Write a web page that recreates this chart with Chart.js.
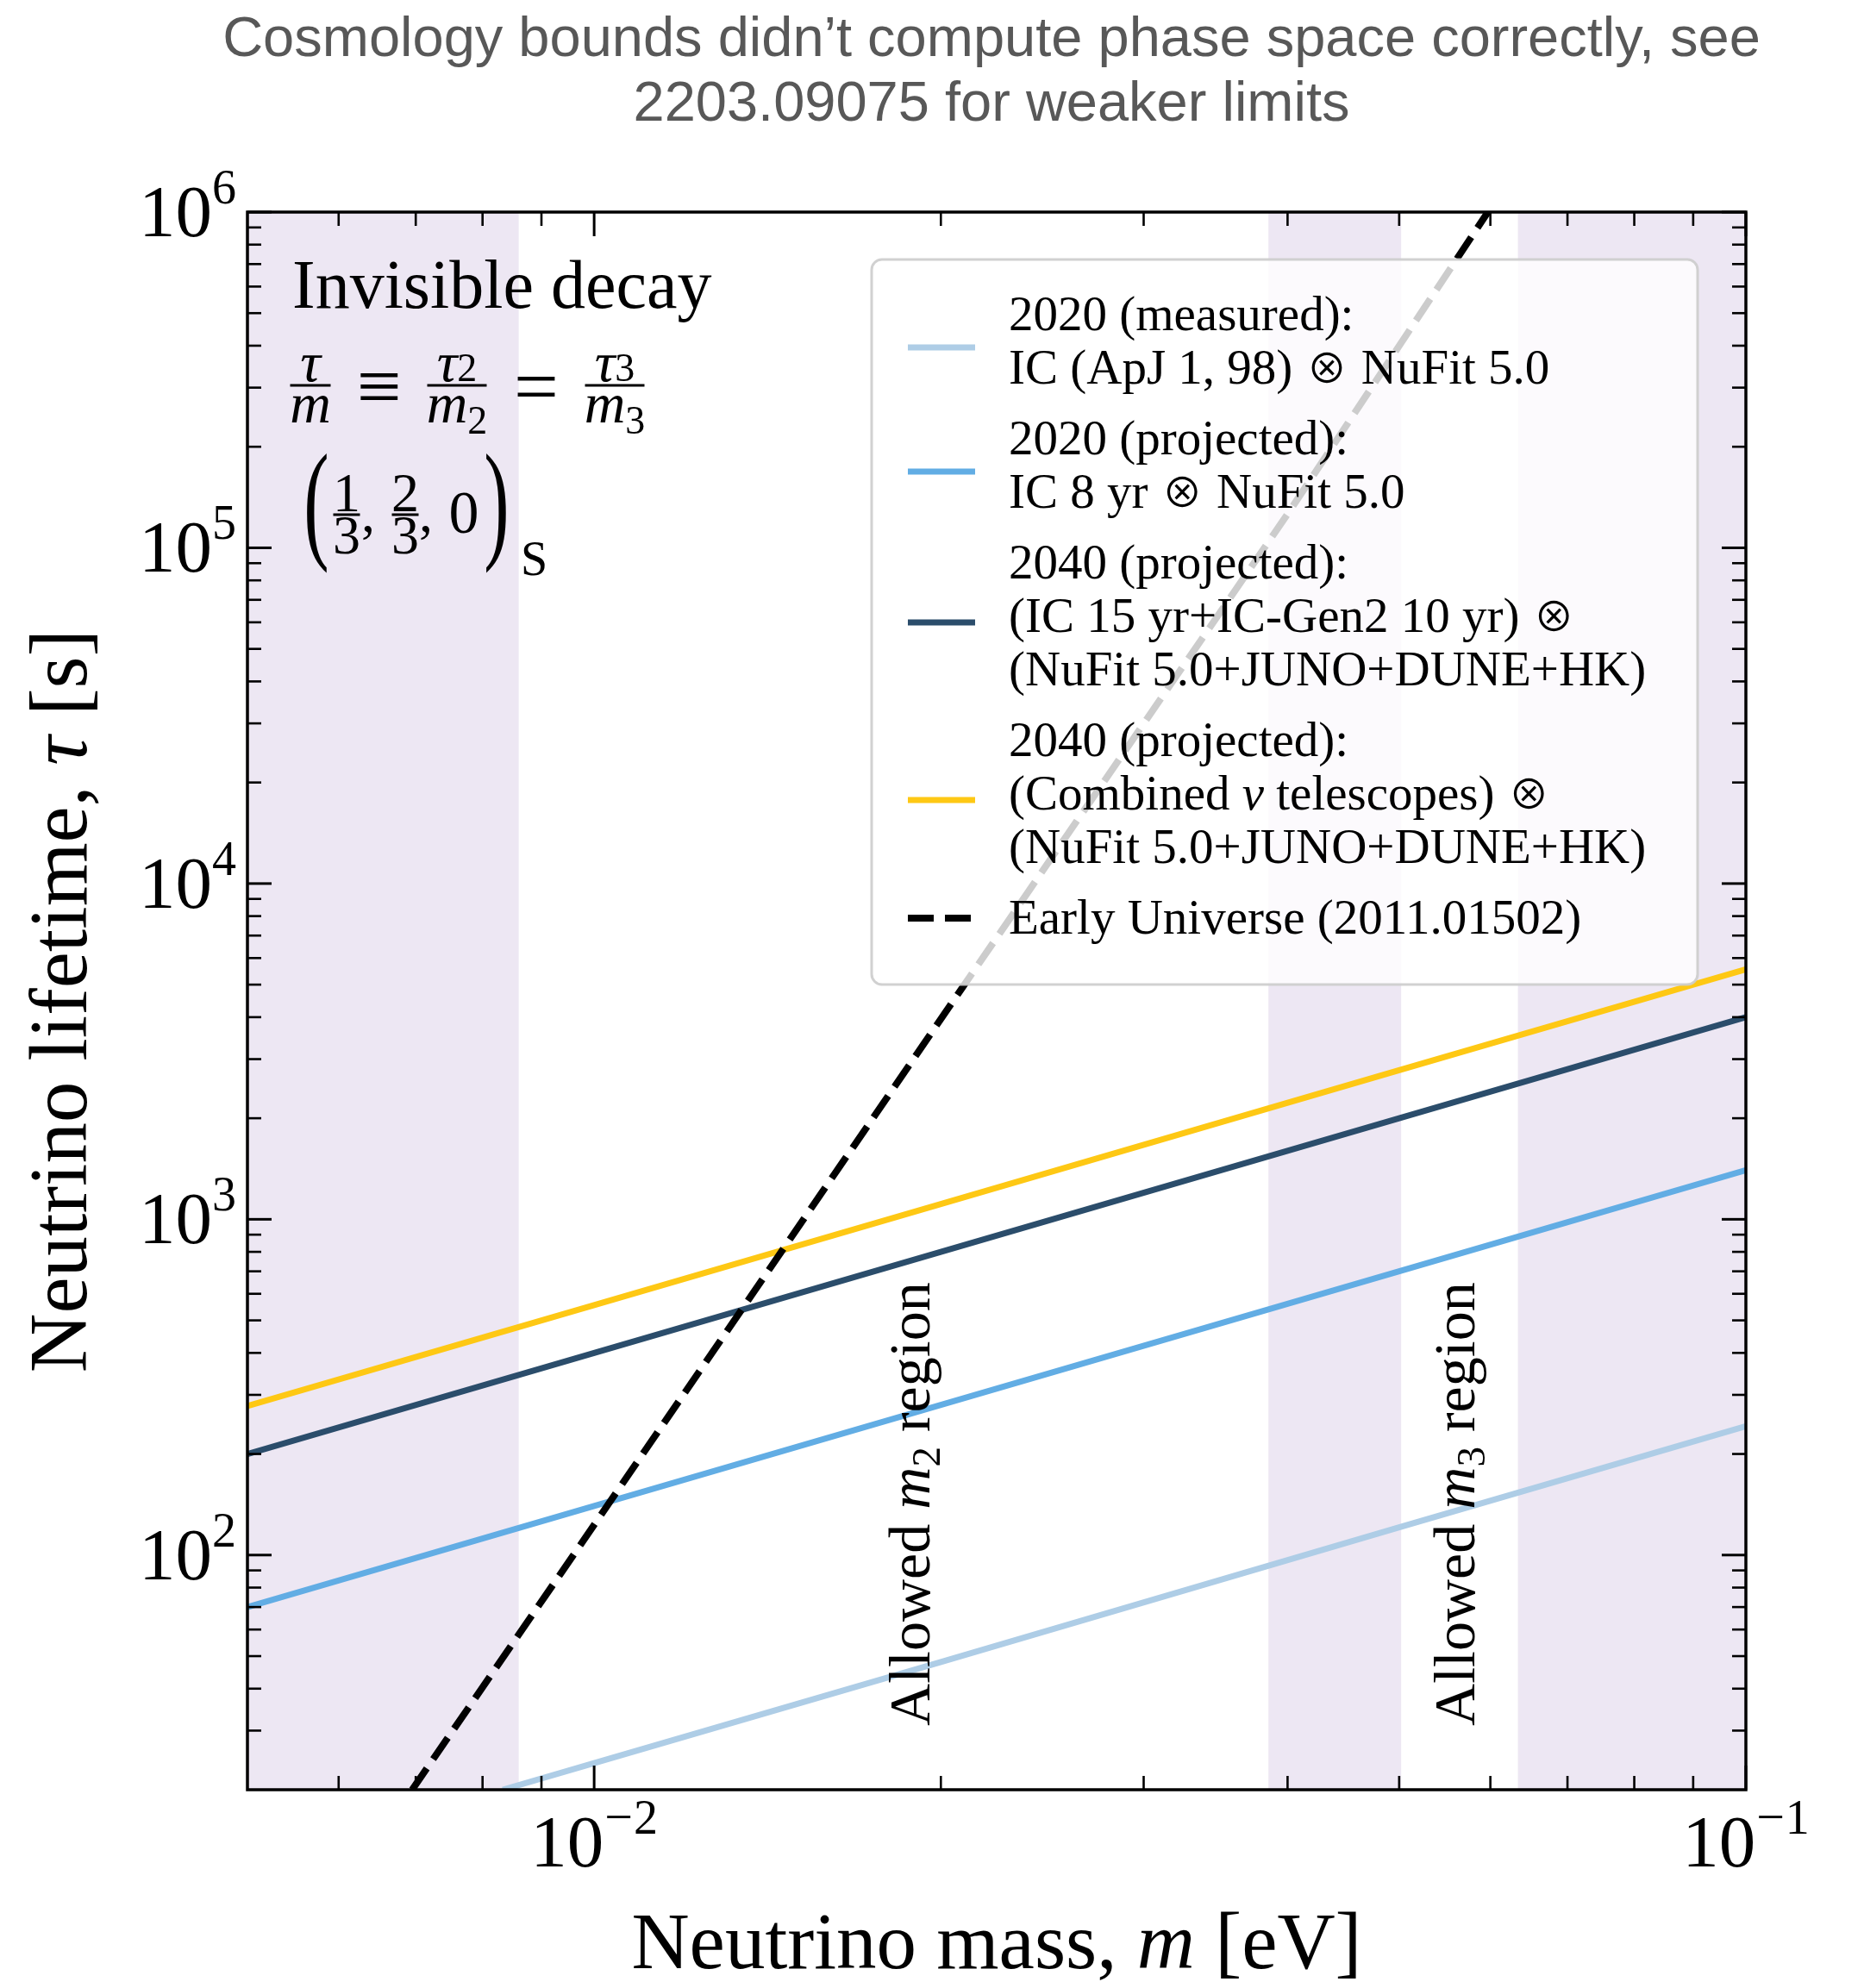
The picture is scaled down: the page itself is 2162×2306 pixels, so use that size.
<!DOCTYPE html>
<html>
<head>
<meta charset="utf-8">
<title>Invisible neutrino decay: lifetime bounds</title>
<script src="https://cdn.jsdelivr.net/npm/chart.js@4.4.1/dist/chart.umd.min.js"></script>
<style>
  html, body { margin: 0; padding: 0; background: #ffffff; }
  canvas { display: block; }
</style>
</head>
<body>
<canvas id="chart" width="2162" height="2306" style="width:2162px;height:2306px"></canvas>
<script>
// ---------------------------------------------------------------------------
// Data: neutrino mass m [eV] and lifetime lower bound tau [s]
// ---------------------------------------------------------------------------
const massGrid = [0.005, 0.01, 0.02, 0.05, 0.1];

// 2040 (projected): combined neutrino telescopes x (NuFit 5.0+JUNO+DUNE+HK)
const tauCombined2040 = [278, 555, 1110, 2780, 5550];
// 2040 (projected): (IC 15 yr + IC-Gen2 10 yr) x (NuFit 5.0+JUNO+DUNE+HK)
const tauGen2_2040 = [200, 400, 800, 2000, 4000];
// 2020 (projected): IC 8 yr x NuFit 5.0
const tauIc8yr2020 = [70, 140, 280, 700, 1400];
// 2020 (measured): IC (ApJ 1, 98) x NuFit 5.0
const massMeasured2020 = [0.00833, 0.01, 0.02, 0.05, 0.1];
const tauMeasured2020 = [20, 24, 48, 121, 242];
// Early Universe bound (2011.01502)
const massEarlyUniverse = [0.00695, 0.01, 0.02, 0.04, 0.0597];
const tauEarlyUniverse = [20, 123, 3950, 126000, 1000000];

// Mass ranges outside the allowed m2 / m3 regions (shaded)
const excludedMassBands = [[0.005, 0.0086], [0.0385, 0.0502], [0.0634, 0.1]];

// Axis ranges and tick values
const massRange = [0.005, 0.1];
const tauRange = [20, 1e6];
const xMajorTicks = [0.01, 0.1];
const xMinorTicks = [0.006, 0.007, 0.008, 0.009, 0.02, 0.03, 0.04, 0.05, 0.06, 0.07, 0.08, 0.09];
const yMajorTicks = [1e2, 1e3, 1e4, 1e5, 1e6];
const yMinorMultipliers = [2, 3, 4, 5, 6, 7, 8, 9];
const yMinorDecades = [10, 100, 1000, 10000, 100000];

// Text
const titleLines = [
  'Cosmology bounds didn\u2019t compute phase space correctly, see',
  '2203.09075 for weaker limits'
];
const seriesLabels = [
  ['2020 (measured):', 'IC (ApJ 1, 98) \u2297 NuFit 5.0'],
  ['2020 (projected):', 'IC 8 yr \u2297 NuFit 5.0'],
  ['2040 (projected):', '(IC 15 yr+IC-Gen2 10 yr) \u2297', '(NuFit 5.0+JUNO+DUNE+HK)'],
  ['2040 (projected):', '(Combined \u03bd telescopes) \u2297', '(NuFit 5.0+JUNO+DUNE+HK)'],
  ['Early Universe (2011.01502)']
];
const seriesColors = ['#aecde6', '#62ade4', '#2b4d6b', '#fec814', '#000000'];

// ---------------------------------------------------------------------------
const SERIF = '"Liberation Serif", "Times New Roman", "DejaVu Serif", serif';
const SANS = '"Liberation Sans", Arial, "DejaVu Sans", sans-serif';
const SYMBOL = '"Noto Sans CJK JP", "DejaVu Sans", sans-serif';
const BAND_COLOR = '#ede7f3';

function points(xs, ys) {
  return xs.map((x, i) => ({ x: x, y: ys[i] }));
}

function lineSet(label, xs, ys, color, width, dash) {
  return {
    label: label,
    data: points(xs, ys),
    showLine: true,
    borderColor: color,
    backgroundColor: color,
    borderWidth: width,
    borderDash: dash || [],
    borderCapStyle: 'butt',
    pointRadius: 0,
    pointHoverRadius: 0,
    fill: false,
    tension: 0,
    clip: 0
  };
}

// Draw a sequence of text runs with individual fonts and vertical offsets.
function drawRuns(ctx, x, y, runs, align) {
  let total = 0;
  for (const r of runs) {
    ctx.font = r.font;
    r.w = ctx.measureText(r.t).width + (r.pad || 0);
    total += r.w;
  }
  let cx = align === 'center' ? x - total / 2 : (align === 'right' ? x - total : x);
  ctx.textAlign = 'left';
  for (const r of runs) {
    ctx.font = r.font;
    ctx.fillText(r.t, cx + (r.pad || 0) / 2, y + (r.dy || 0));
    cx += r.w;
  }
  return total;
}

// Split a label into upright text, italic Greek letters and operator symbols.
function labelRuns(text, size) {
  const runs = [];
  let buf = '';
  const flush = () => { if (buf) { runs.push({ t: buf, font: `${size}px ${SERIF}` }); buf = ''; } };
  for (const ch of text) {
    if (/[\u03b1-\u03c9]/.test(ch)) {
      flush();
      runs.push({ t: ch, font: `italic ${size}px ${SERIF}` });
    } else if (ch === '\u2297') {
      flush();
      runs.push({ t: ch, font: `${Math.round(size * 0.82)}px ${SYMBOL}`, dy: -1, pad: 4 });
    } else {
      buf += ch;
    }
  }
  flush();
  return runs;
}

function fraction(ctx, cx, barY, barW, num, den, numGap, denGap) {
  ctx.fillRect(cx - barW / 2, barY - 1.5, barW, 3);
  drawRuns(ctx, cx, barY - (numGap || 5), num, 'center');
  drawRuns(ctx, cx, barY + (denGap || 44), den, 'center');
}

const decor = {
  id: 'decor',
  beforeDatasetsDraw(chart) {
    const { ctx, chartArea: a, scales: { x } } = chart;
    ctx.save();
    ctx.fillStyle = BAND_COLOR;
    for (const [m0, m1] of excludedMassBands) {
      const x0 = x.getPixelForValue(m0);
      const x1 = x.getPixelForValue(m1);
      ctx.fillRect(x0, a.top, x1 - x0, a.bottom - a.top);
    }
    ctx.restore();
  },
  afterDatasetsDraw(chart) {
    const { ctx, chartArea: a, scales: { x, y } } = chart;
    ctx.save();
    ctx.fillStyle = '#000';
    ctx.textBaseline = 'alphabetic';

    // Decay scenario annotation
    const it = s => `italic ${s}px ${SERIF}`;
    const rm = s => `${s}px ${SERIF}`;
    drawRuns(ctx, 339, 357, [{ t: 'Invisible decay', font: rm(80) }], 'left');
    fraction(ctx, 360, 447, 47, [{ t: '\u03c4', font: it(66) }], [{ t: 'm', font: it(66) }], 5, 43);
    ctx.textBaseline = 'middle';
    ctx.textAlign = 'center';
    ctx.font = rm(92);
    ctx.fillText('\u2261', 440, 455);
    ctx.fillText('=', 622, 455);
    ctx.textBaseline = 'alphabetic';
    fraction(ctx, 530, 447, 69,
      [{ t: '\u03c4', font: it(66) }, { t: '2', font: rm(46), dy: 0 }],
      [{ t: 'm', font: it(66) }, { t: '2', font: rm(46), dy: 13 }], 5, 43);
    fraction(ctx, 713, 447, 69,
      [{ t: '\u03c4', font: it(66) }, { t: '3', font: rm(46), dy: 0 }],
      [{ t: 'm', font: it(66) }, { t: '3', font: rm(46), dy: 13 }], 5, 43);

    // Flavor composition at the source
    const paren = (ch, cx) => {
      ctx.save();
      ctx.translate(cx, 632);
      ctx.scale(0.58, 1);
      ctx.font = rm(152);
      ctx.textAlign = 'center';
      ctx.fillText(ch, 0, 0);
      ctx.restore();
    };
    paren('(', 367);
    fraction(ctx, 402, 597, 31, [{ t: '1', font: rm(64) }], [{ t: '3', font: rm(64) }], 4, 45);
    drawRuns(ctx, 419, 617, [{ t: ',', font: rm(64) }], 'left');
    fraction(ctx, 470, 597, 31, [{ t: '2', font: rm(64) }], [{ t: '3', font: rm(64) }], 4, 45);
    drawRuns(ctx, 486, 617, [{ t: ',', font: rm(64) }], 'left');
    drawRuns(ctx, 538, 618, [{ t: '0', font: rm(70) }], 'center');
    paren(')', 576);
    drawRuns(ctx, 604, 667, [{ t: 'S', font: rm(56) }], 'left');

    // Allowed mass regions (vertical labels)
    const vlabel = (mass, tau, sub) => {
      ctx.save();
      ctx.translate(x.getPixelForValue(mass), y.getPixelForValue(tau));
      ctx.rotate(-Math.PI / 2);
      drawRuns(ctx, 0, 0, [
        { t: 'Allowed ', font: rm(68) },
        { t: 'm', font: it(68) },
        { t: sub, font: rm(47), dy: 12 },
        { t: ' region', font: rm(68) }
      ], 'left');
      ctx.restore();
    };
    vlabel(0.01954, 31, '2');
    vlabel(0.05815, 31, '3');

    // Legend box
    const bx = 1011, by = 301, bw = 958, bh = 841;
    ctx.beginPath();
    ctx.roundRect(bx, by, bw, bh, 12);
    ctx.fillStyle = 'rgba(255,255,255,0.8)';
    ctx.fill();
    ctx.lineWidth = 3;
    ctx.strokeStyle = 'rgba(204,204,204,0.9)';
    ctx.stroke();

    const ds = chart.data.datasets;
    const legendOrder = [4, 3, 2, 1, 0]; // dataset index for each legend entry
    let base = 383;
    ctx.fillStyle = '#000';
    seriesLabels.forEach((lines, i) => {
      const d = ds[legendOrder[i]];
      const first = base;
      lines.forEach((ln, k) => {
        drawRuns(ctx, 1170, base, labelRuns(ln, 57), 'left');
        if (k < lines.length - 1) base += 62;
      });
      const last = base;
      const hy = (first + last) / 2 - (lines.length > 1 ? 11 : 18);
      ctx.save();
      ctx.strokeStyle = d.borderColor;
      ctx.lineWidth = d.borderWidth;
      ctx.setLineDash(d.borderDash);
      ctx.lineCap = 'butt';
      ctx.beginPath();
      ctx.moveTo(1053, hy);
      ctx.lineTo(1131, hy);
      ctx.stroke();
      ctx.restore();
      base += 82;
    });
    ctx.restore();
  },
  afterDraw(chart) {
    const { ctx, chartArea: a, scales: { x, y } } = chart;
    ctx.save();
    ctx.fillStyle = '#000';
    ctx.strokeStyle = '#000';

    // Inward ticks on all four sides
    const tick = (px, py, dx, dy, w) => {
      ctx.lineWidth = w;
      ctx.beginPath();
      ctx.moveTo(px, py);
      ctx.lineTo(px + dx, py + dy);
      ctx.stroke();
    };
    const MAJ = 28, MIN = 16;
    for (const v of xMajorTicks) {
      const px = x.getPixelForValue(v);
      tick(px, a.bottom, 0, -MAJ, 3); tick(px, a.top, 0, MAJ, 3);
    }
    for (const v of xMinorTicks) {
      const px = x.getPixelForValue(v);
      tick(px, a.bottom, 0, -MIN, 2.6); tick(px, a.top, 0, MIN, 2.6);
    }
    for (const v of yMajorTicks) {
      const py = y.getPixelForValue(v);
      tick(a.left, py, MAJ, 0, 3); tick(a.right, py, -MAJ, 0, 3);
    }
    for (const dec of yMinorDecades) {
      for (const k of yMinorMultipliers) {
        const v = dec * k;
        if (v <= tauRange[0] || v >= tauRange[1]) continue;
        const py = y.getPixelForValue(v);
        tick(a.left, py, MIN, 0, 2.6); tick(a.right, py, -MIN, 0, 2.6);
      }
    }

    // Frame
    ctx.lineWidth = 3.5;
    ctx.strokeRect(a.left, a.top, a.right - a.left, a.bottom - a.top);

    // Tick labels 10^n
    const rm = s => `${s}px ${SERIF}`;
    const expRuns = v => {
      const e = Math.round(Math.log10(v));
      const r = [];
      if (e < 0) r.push({ t: '\u2212', font: rm(58), dy: -38, pad: 2 });
      r.push({ t: String(Math.abs(e)), font: rm(56), dy: -38 });
      return r;
    };
    for (const v of yMajorTicks) {
      const py = y.getPixelForValue(v);
      drawRuns(ctx, 274, py + 28, [{ t: '10', font: rm(85) }].concat(expRuns(v)), 'right');
    }
    for (const v of xMajorTicks) {
      const px = x.getPixelForValue(v);
      drawRuns(ctx, px, 2165, [{ t: '10', font: rm(85) }].concat(expRuns(v)), 'center');
    }

    // Axis titles
    const it = s => `italic ${s}px ${SERIF}`;
    drawRuns(ctx, (a.left + a.right) / 2, 2283, [
      { t: 'Neutrino mass, ', font: rm(93) },
      { t: 'm', font: it(93) },
      { t: ' [eV]', font: rm(93) }
    ], 'center');
    ctx.save();
    ctx.translate(100, (a.top + a.bottom) / 2);
    ctx.rotate(-Math.PI / 2);
    drawRuns(ctx, 0, 0, [
      { t: 'Neutrino lifetime, ', font: rm(95) },
      { t: '\u03c4', font: it(95) },
      { t: ' [s]', font: rm(95) }
    ], 'center');
    ctx.restore();

    // Title
    ctx.fillStyle = '#585858';
    ctx.font = `65px ${SANS}`;
    ctx.textAlign = 'center';
    ctx.fillText(titleLines[0], 1150, 65);
    ctx.fillText(titleLines[1], 1150, 140);
    ctx.restore();
  }
};

new Chart(document.getElementById('chart'), {
  type: 'scatter',
  data: {
    datasets: [
      lineSet(seriesLabels[4].join(' '), massEarlyUniverse, tauEarlyUniverse, seriesColors[4], 8, [30, 13]),
      lineSet(seriesLabels[3].join(' '), massGrid, tauCombined2040, seriesColors[3], 7),
      lineSet(seriesLabels[2].join(' '), massGrid, tauGen2_2040, seriesColors[2], 7),
      lineSet(seriesLabels[1].join(' '), massGrid, tauIc8yr2020, seriesColors[1], 7),
      lineSet(seriesLabels[0].join(' '), massMeasured2020, tauMeasured2020, seriesColors[0], 7)
    ]
  },
  options: {
    responsive: false,
    maintainAspectRatio: false,
    devicePixelRatio: 1,
    animation: false,
    events: [],
    layout: { padding: { left: 287, top: 246, right: 137, bottom: 230 } },
    scales: {
      x: { type: 'logarithmic', min: massRange[0], max: massRange[1], display: false },
      y: { type: 'logarithmic', min: tauRange[0], max: tauRange[1], display: false }
    },
    plugins: {
      legend: { display: false },
      tooltip: { enabled: false },
      title: { display: false }
    }
  },
  plugins: [decor]
});
</script>
</body>
</html>
